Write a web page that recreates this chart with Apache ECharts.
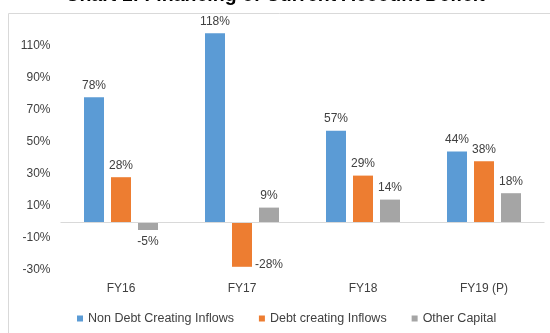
<!DOCTYPE html>
<html><head><meta charset="utf-8">
<script src="https://cdn.jsdelivr.net/npm/echarts@6/dist/echarts.min.js"></script>
<style>html,body{margin:0;padding:0;background:#fff}#c{width:550px;height:333px}</style>
</head><body><div id="c"></div>
<script>
var categories = ['FY16', 'FY17', 'FY18', 'FY19 (P)'];
var nonDebt = [78, 118, 57, 44];
var debtCreating = [28, -28, 29, 38];
var otherCapital = [-5, 9, 14, 18];
var seriesNames = ['Non Debt Creating Inflows', 'Debt creating Inflows', 'Other Capital'];
var colors = ['#5B9BD5', '#ED7D31', '#A5A5A5'];
var FONT = '"Liberation Sans", Arial, sans-serif';

function mkData(arr, special) {
  return arr.map(function (v, i) {
    var d = { value: v };
    if (v < 0) {
      d.label = { position: 'bottom' };
      if (special && special[i]) d.label = special[i];
    }
    return d;
  });
}
var debtSpecial = { 1: { position: ['100%', '100%'], align: 'left', verticalAlign: 'bottom', offset: [3, 4] } };

var labelCfg = { show: true, position: 'top', distance: 6, formatter: '{c}%', color: '#404040', fontSize: 12, fontFamily: FONT };

var chart = echarts.init(document.getElementById('c'));
chart.setOption({
  animation: false,
  color: colors,
  title: { text: 'Chart 1: Financing of Current Account Deficit', left: 'center', top: -19,
    textStyle: { fontSize: 19.5, fontWeight: 'bold', color: '#000', fontFamily: FONT } },
  graphic: [{ type: 'rect', shape: { x: 8.5, y: 13.5, width: 600, height: 400 }, style: { fill: 'none', stroke: '#d9d9d9', lineWidth: 1 }, silent: true }],
  legend: { bottom: 3, left: 72, itemWidth: 6, itemHeight: 6, itemGap: 25, icon: 'rect',
    textStyle: { fontSize: 12.5, color: '#404040', fontFamily: FONT }, data: seriesNames },
  grid: { left: 60.5, right: 5.5, top: 14, bottom: 63 },
  xAxis: { type: 'category', data: categories, axisLine: { show: false, onZero: false }, axisTick: { show: false },
    axisLabel: { margin: 13, fontSize: 12, color: '#404040', fontFamily: FONT } },
  yAxis: { type: 'value', min: -30, max: 130, interval: 20, splitLine: { show: false },
    axisLine: { show: false }, axisTick: { show: false },
    axisLabel: { showMaxLabel: false, formatter: '{value}%', margin: 10, fontSize: 12, color: '#404040', fontFamily: FONT } },
  series: [
    { name: seriesNames[0], type: 'bar', data: mkData(nonDebt), barWidth: 20, barGap: '35%', label: labelCfg,
      markLine: { silent: true, symbol: 'none', label: { show: false }, lineStyle: { color: '#d9d9d9', type: 'solid', width: 1 }, data: [{ yAxis: 0 }] } },
    { name: seriesNames[1], type: 'bar', data: mkData(debtCreating, debtSpecial), barWidth: 20, barGap: '35%', label: labelCfg },
    { name: seriesNames[2], type: 'bar', data: mkData(otherCapital), barWidth: 20, barGap: '35%', label: labelCfg }
  ]
});
</script></body></html>
